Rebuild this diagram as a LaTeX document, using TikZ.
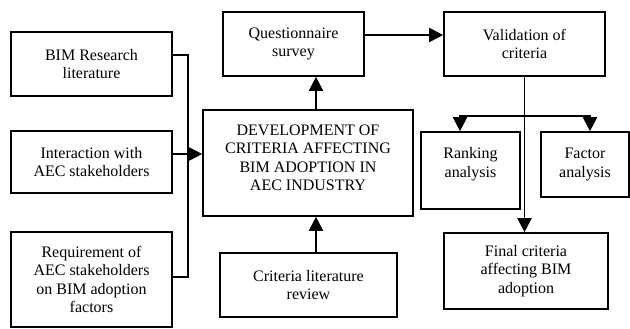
\documentclass[tikz,border=0pt]{standalone}
\usepackage{fontspec}
\setmainfont{Liberation Serif}
\usetikzlibrary{arrows.meta}
\begin{document}
\begin{tikzpicture}[x=1pt,y=-1pt,
  box/.style={draw,line width=1.6pt,inner sep=0pt,align=center,font=\fontsize{16}{18.5}\selectfont},
  txt/.style={inner sep=0pt,align=center,font=\fontsize{16}{18.5}\selectfont},
  conn/.style={line width=1.9pt},
  arr/.style={conn,-{Triangle[length=14pt,width=14pt]}},
  darr/.style={conn,{Triangle[length=14pt,width=14pt]}-{Triangle[length=14pt,width=14pt]}}]
\useasboundingbox (0,0) rectangle (630,329);
\node[box,minimum width=161pt,minimum height=64pt] (bim) at (91.5,64) {BIM Research\\literature};
\node[box,minimum width=161pt,minimum height=62pt] (inter) at (91.5,162) {Interaction with\\AEC stakeholders};
\node[box,minimum width=161pt,minimum height=95pt] (req) at (91.5,279.5) {Requirement of\\AEC stakeholders\\on BIM adoption\\factors};
\node[box,minimum width=210pt,minimum height=106pt] (dev) at (308,163) {};
\node[txt] (devt) at (308,158) {DEVELOPMENT OF\\CRITERIA AFFECTING\\BIM ADOPTION IN\\AEC INDUSTRY};
\node[box,minimum width=141pt,minimum height=64pt] (quest) at (293.5,44) {Questionnaire\\survey};
\node[box,minimum width=177pt,minimum height=64pt] (crit) at (308.5,285) {Criteria literature\\review};
\node[box,minimum width=161pt,minimum height=64pt] (valid) at (524.5,44) {Validation of\\criteria};
\node[box,minimum width=99pt,minimum height=77pt] (rank) at (470.5,170.5) {};
\node[txt] (rankt) at (470.5,164) {Ranking\\analysis};
\node[box,minimum width=88pt,minimum height=65pt] (fact) at (585,164.5) {Factor\\analysis};
\node[box,minimum width=164pt,minimum height=76pt] (final) at (526,271) {Final criteria\\affecting BIM\\adoption};
% collector
\coordinate (busT) at (188,55);
\coordinate (busB) at (188,277);
\coordinate (inY) at (188,154);
\draw[conn] (bim.east |- busT) -- (busT) -- (busB) -- (req.east |- busB);
\draw[arr] (inter.east |- inY) -- (dev.west |- inY);
% vertical arrows
\coordinate (upX) at (316,0);
\draw[arr] (upX |- dev.north) -- (upX |- quest.south);
\draw[arr] (upX |- crit.north) -- (upX |- dev.south);
\coordinate (qv) at (0,35);
\draw[arr] (quest.east |- qv) -- (valid.west |- qv);
\draw[arr] (valid.south) -- (valid.south |- final.north);
\coordinate (brL) at (460,116);
\coordinate (brR) at (590,116);
\draw[darr] (brL |- rank.north) -- (brL) -- (brR) -- (brR |- fact.north);
\end{tikzpicture}
\end{document}
